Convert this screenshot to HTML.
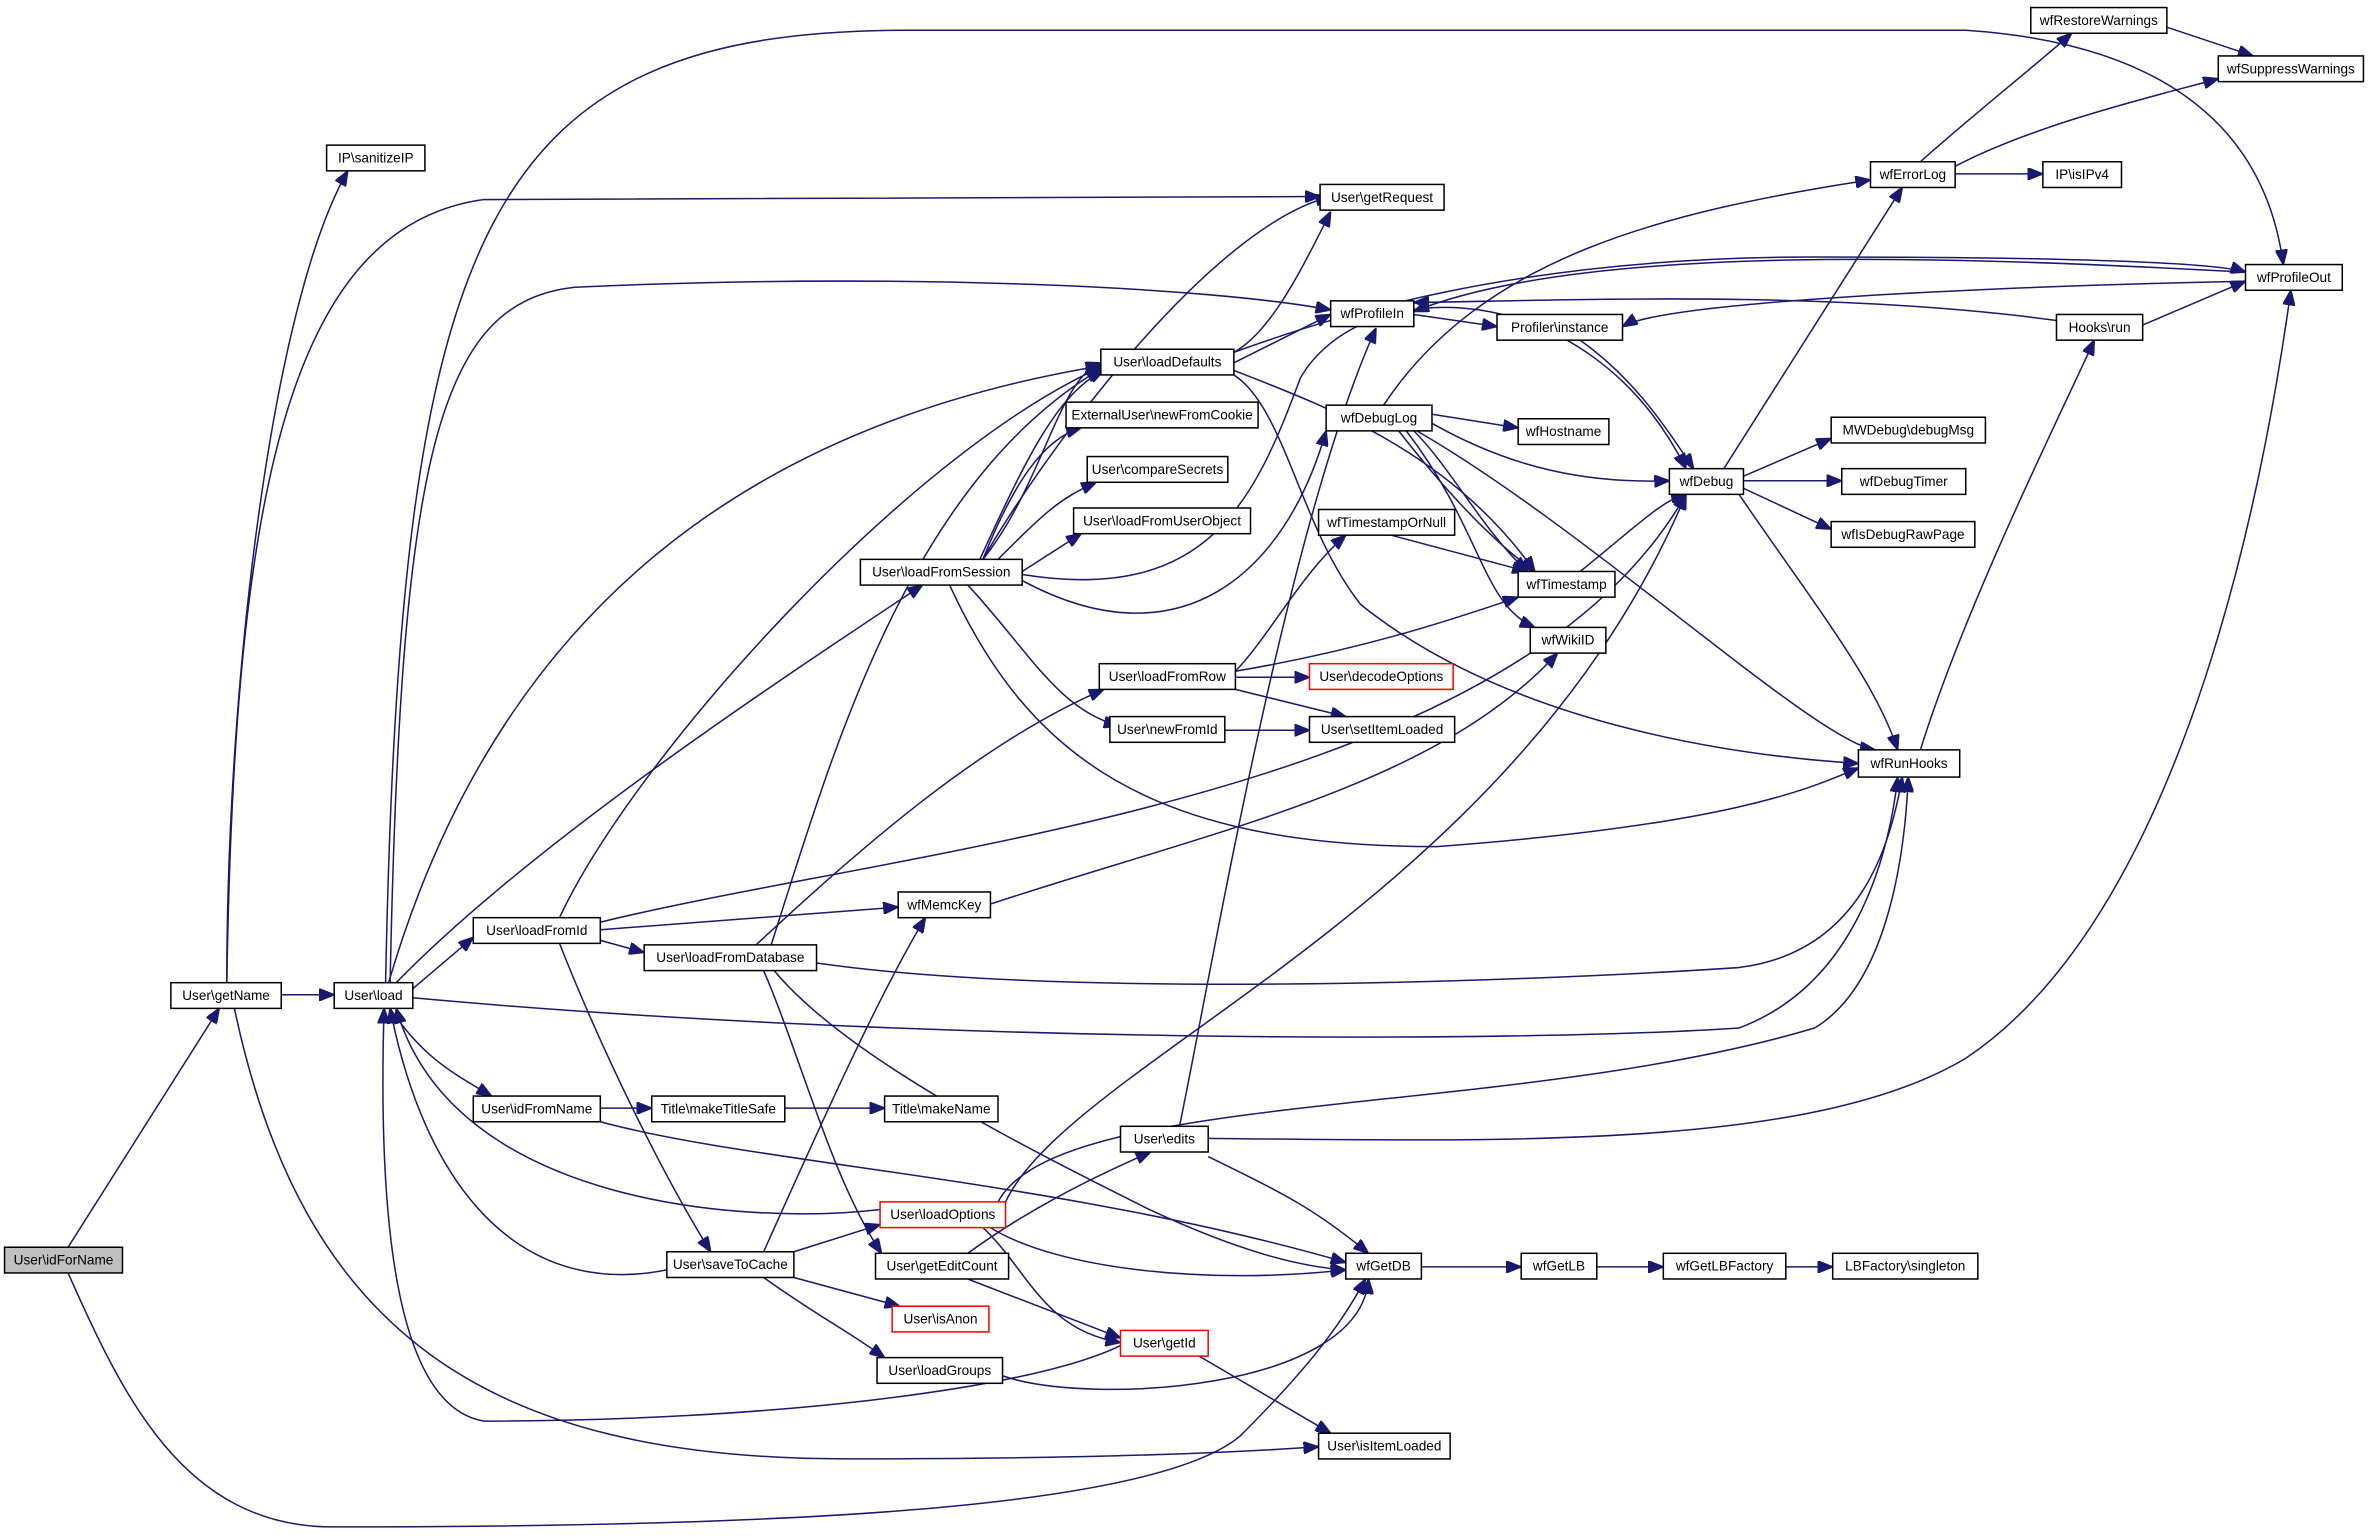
<!DOCTYPE html>
<html><head><meta charset="utf-8"><style>
html,body{margin:0;padding:0;background:#fff;}
svg{display:block;}
text{font-family:"Liberation Sans",sans-serif;font-size:9px;fill:#000;text-anchor:middle;dominant-baseline:central;}
.n{fill:#fff;stroke:#000;stroke-width:1;}
.r{fill:#fff;stroke:#f00;stroke-width:1;}
.g{fill:#bfbfbf;stroke:#000;stroke-width:1;}
path{fill:none;stroke:#191970;stroke-width:1;}
</style></head><body>
<svg width="2371" height="1536" viewBox="0 0 1568 1016" preserveAspectRatio="none" xmlns="http://www.w3.org/2000/svg">
<defs><marker id="a" viewBox="0 0 10 8" refX="10" refY="4" markerWidth="10" markerHeight="8" markerUnits="userSpaceOnUse" orient="auto"><path d="M0,0 L10,4 L0,8 z" style="fill:#191970;stroke:#191970"/></marker></defs>
<g marker-end="url(#a)">
<path d="M45,825 L145,667"/>
<path d="M45,842 C80,920 120,1010 220,1010 C500,1010 760,1000 820,950 C860,910 885,880 903,846"/>
<path d="M186,658 L221,658"/>
<path d="M150,650 C150,450 180,200 230,113"/>
<path d="M150,650 C155,330 190,150 320,132 L873,130"/>
<path d="M155,667 C200,880 320,965 560,965 C700,965 800,962 872,957"/>
<path d="M258,650 C265,300 290,200 380,190 C600,180 800,190 880,205"/>
<path d="M255,650 C265,150 320,20 600,20 L1300,20 C1450,30 1500,100 1510,175"/>
<path d="M257,650 C330,400 500,280 728,242"/>
<path d="M262,650 C350,560 500,460 610,387"/>
<path d="M273,654 L313,620"/>
<path d="M258,667 C280,700 300,710 325,725"/>
<path d="M273,660 C600,690 1000,690 1150,680 C1230,650 1250,560 1255,514"/>
<path d="M582,800 C500,810 300,800 262,667"/>
<path d="M441,840 C340,860 280,780 258,667"/>
<path d="M741,890 C680,920 500,940 320,940 C260,930 250,800 254,667"/>
<path d="M370,607 C420,500 600,300 728,243"/>
<path d="M397,615 L594,600"/>
<path d="M397,622 L426,630"/>
<path d="M370,624 C400,700 440,780 470,828"/>
<path d="M397,610 C600,560 1000,530 1115,327"/>
<path d="M397,733 L431,733"/>
<path d="M397,742 C500,770 700,780 890,835"/>
<path d="M519,733 L585,733"/>
<path d="M500,625 C570,560 650,490 730,456"/>
<path d="M510,625 C550,500 600,320 728,244"/>
<path d="M505,642 C530,700 550,780 583,829"/>
<path d="M512,642 C560,700 680,760 760,800 C820,828 860,838 890,840"/>
<path d="M540,637 C700,660 1000,650 1150,640 C1230,630 1250,560 1258,514"/>
<path d="M525,828 L582,810"/>
<path d="M525,845 L595,864"/>
<path d="M505,845 C540,870 560,880 585,898"/>
<path d="M505,828 C540,750 580,660 612,607"/>
<path d="M655,812 C700,840 800,850 890,840"/>
<path d="M650,812 C680,840 690,880 741,888"/>
<path d="M660,795 C700,720 1000,740 1200,680 C1250,650 1260,560 1262,514"/>
<path d="M665,795 C710,700 1000,600 1115,327"/>
<path d="M640,829 C680,800 720,780 761,762"/>
<path d="M640,846 L741,885"/>
<path d="M780,745 C800,650 850,350 910,217"/>
<path d="M799,753 C1000,755 1200,760 1300,700 C1450,600 1500,300 1515,192"/>
<path d="M799,765 C850,790 870,800 905,829"/>
<path d="M793,897 L880,948"/>
<path d="M663,910 C720,930 900,920 905,846"/>
<path d="M940,838 L1006,838"/>
<path d="M1056,838 L1100,838"/>
<path d="M1181,838 L1212,838"/>
<path d="M650,370 C690,300 800,150 880,130"/>
<path d="M650,370 C690,320 700,250 728,240"/>
<path d="M648,370 C680,300 700,260 730,245"/>
<path d="M650,370 C670,320 690,290 715,283"/>
<path d="M660,370 C690,340 700,330 725,319"/>
<path d="M676,378 L715,353"/>
<path d="M676,380 C800,400 830,330 860,250 C900,180 1050,180 1115,310"/>
<path d="M676,384 C780,440 850,380 877,285"/>
<path d="M640,387 C680,430 700,470 740,480"/>
<path d="M628,387 C680,500 760,560 950,560 C1150,545 1200,520 1229,508"/>
<path d="M817,444 C840,420 860,380 890,354"/>
<path d="M817,444 C900,430 960,410 1004,395"/>
<path d="M817,448 L866,448"/>
<path d="M817,456 L890,474"/>
<path d="M810,483 L866,483"/>
<path d="M816,233 C840,220 860,180 880,140"/>
<path d="M816,240 L880,208"/>
<path d="M816,233 C880,210 1000,170 1200,170 C1400,170 1470,175 1485,180"/>
<path d="M816,245 C880,270 960,300 1015,378"/>
<path d="M816,248 C850,270 860,350 900,400 C1000,480 1150,500 1229,505"/>
<path d="M935,208 L990,216"/>
<path d="M1485,186 C1300,190 1100,200 1073,216"/>
<path d="M1485,180 C1300,170 1050,160 935,206"/>
<path d="M1045,225 C1080,250 1100,280 1120,310"/>
<path d="M915,268 C980,170 1100,140 1237,119"/>
<path d="M947,274 L1004,283"/>
<path d="M947,280 C1000,310 1050,320 1104,318"/>
<path d="M935,285 C960,310 980,350 1010,378"/>
<path d="M925,285 C960,330 990,360 1015,378"/>
<path d="M930,285 C980,350 980,400 1015,415"/>
<path d="M937,285 C1050,350 1200,490 1240,496"/>
<path d="M920,354 L1010,378"/>
<path d="M1045,378 C1080,350 1100,330 1115,327"/>
<path d="M1140,310 L1258,124"/>
<path d="M1153,315 L1211,290"/>
<path d="M1153,318 L1218,318"/>
<path d="M1153,323 L1211,350"/>
<path d="M1150,327 C1200,400 1240,450 1255,496"/>
<path d="M1270,496 C1300,400 1360,280 1385,225"/>
<path d="M1417,215 L1485,186"/>
<path d="M1360,212 C1200,190 1000,200 935,200"/>
<path d="M1270,107 C1300,80 1350,40 1370,22"/>
<path d="M1293,110 C1350,80 1440,60 1467,52"/>
<path d="M1293,115 L1351,115"/>
<path d="M1433,18 L1490,37"/>
<path d="M655,598 C800,550 950,520 1030,432"/>
</g>
<rect class="g" x="3" y="825" width="78" height="17"/><text x="42" y="833.5">User\idForName</text>
<rect class="n" x="113" y="650" width="73" height="17"/><text x="149.5" y="658.5">User\getName</text>
<rect class="n" x="221" y="650" width="52" height="17"/><text x="247" y="658.5">User\load</text>
<rect class="n" x="216" y="96" width="65" height="17"/><text x="248.5" y="104.5">IP\sanitizeIP</text>
<rect class="n" x="313" y="607" width="84" height="17"/><text x="355" y="615.5">User\loadFromId</text>
<rect class="n" x="313" y="725" width="84" height="17"/><text x="355" y="733.5">User\idFromName</text>
<rect class="n" x="426" y="625" width="114" height="17"/><text x="483" y="633.5">User\loadFromDatabase</text>
<rect class="n" x="431" y="725" width="88" height="17"/><text x="475" y="733.5">Title\makeTitleSafe</text>
<rect class="n" x="585" y="725" width="75" height="17"/><text x="622.5" y="733.5">Title\makeName</text>
<rect class="n" x="441" y="828" width="84" height="17"/><text x="483" y="836.5">User\saveToCache</text>
<rect class="r" x="582" y="795" width="83" height="17"/><text x="623.5" y="803.5">User\loadOptions</text>
<rect class="n" x="579" y="829" width="88" height="17"/><text x="623" y="837.5">User\getEditCount</text>
<rect class="r" x="590" y="864" width="64" height="17"/><text x="622" y="872.5">User\isAnon</text>
<rect class="n" x="580" y="898" width="83" height="17"/><text x="621.5" y="906.5">User\loadGroups</text>
<rect class="r" x="741" y="880" width="58" height="17"/><text x="770" y="888.5">User\getId</text>
<rect class="n" x="872" y="948" width="87" height="17"/><text x="915.5" y="956.5">User\isItemLoaded</text>
<rect class="n" x="741" y="745" width="58" height="17"/><text x="770" y="753.5">User\edits</text>
<rect class="n" x="890" y="829" width="50" height="17"/><text x="915" y="837.5">wfGetDB</text>
<rect class="n" x="1006" y="829" width="50" height="17"/><text x="1031" y="837.5">wfGetLB</text>
<rect class="n" x="1100" y="829" width="81" height="17"/><text x="1140.5" y="837.5">wfGetLBFactory</text>
<rect class="n" x="1212" y="829" width="96" height="17"/><text x="1260" y="837.5">LBFactory\singleton</text>
<rect class="n" x="727" y="439" width="90" height="17"/><text x="772" y="447.5">User\loadFromRow</text>
<rect class="r" x="866" y="439" width="95" height="17"/><text x="913.5" y="447.5">User\decodeOptions</text>
<rect class="n" x="734" y="474" width="76" height="17"/><text x="772" y="482.5">User\newFromId</text>
<rect class="n" x="866" y="474" width="96" height="17"/><text x="914" y="482.5">User\setItemLoaded</text>
<rect class="n" x="594" y="590" width="61" height="17"/><text x="624.5" y="598.5">wfMemcKey</text>
<rect class="n" x="569" y="370" width="107" height="17"/><text x="622.5" y="378.5">User\loadFromSession</text>
<rect class="n" x="728" y="231" width="88" height="17"/><text x="772" y="239.5">User\loadDefaults</text>
<rect class="n" x="705" y="266" width="127" height="17"/><text x="768.5" y="274.5">ExternalUser\newFromCookie</text>
<rect class="n" x="719" y="302" width="93" height="17"/><text x="765.5" y="310.5">User\compareSecrets</text>
<rect class="n" x="710" y="336" width="117" height="17"/><text x="768.5" y="344.5">User\loadFromUserObject</text>
<rect class="n" x="873" y="122" width="82" height="17"/><text x="914" y="130.5">User\getRequest</text>
<rect class="n" x="880" y="199" width="55" height="17"/><text x="907.5" y="207.5">wfProfileIn</text>
<rect class="n" x="990" y="208" width="83" height="17"/><text x="1031.5" y="216.5">Profiler\instance</text>
<rect class="n" x="877" y="268" width="70" height="17"/><text x="912" y="276.5">wfDebugLog</text>
<rect class="n" x="1004" y="277" width="60" height="17"/><text x="1034" y="285.5">wfHostname</text>
<rect class="n" x="872" y="337" width="90" height="17"/><text x="917" y="345.5">wfTimestampOrNull</text>
<rect class="n" x="1004" y="378" width="64" height="17"/><text x="1036" y="386.5">wfTimestamp</text>
<rect class="n" x="1012" y="415" width="50" height="17"/><text x="1037" y="423.5">wfWikiID</text>
<rect class="n" x="1104" y="310" width="49" height="17"/><text x="1128.5" y="318.5">wfDebug</text>
<rect class="n" x="1237" y="107" width="56" height="17"/><text x="1265" y="115.5">wfErrorLog</text>
<rect class="n" x="1343" y="5" width="90" height="17"/><text x="1388" y="13.5">wfRestoreWarnings</text>
<rect class="n" x="1467" y="37" width="96" height="17"/><text x="1515" y="45.5">wfSuppressWarnings</text>
<rect class="n" x="1351" y="107" width="52" height="17"/><text x="1377" y="115.5">IP\isIPv4</text>
<rect class="n" x="1485" y="175" width="64" height="17"/><text x="1517" y="183.5">wfProfileOut</text>
<rect class="n" x="1360" y="208" width="57" height="17"/><text x="1388.5" y="216.5">Hooks\run</text>
<rect class="n" x="1211" y="276" width="102" height="17"/><text x="1262" y="284.5">MWDebug\debugMsg</text>
<rect class="n" x="1218" y="310" width="82" height="17"/><text x="1259" y="318.5">wfDebugTimer</text>
<rect class="n" x="1211" y="345" width="95" height="17"/><text x="1258.5" y="353.5">wfIsDebugRawPage</text>
<rect class="n" x="1229" y="496" width="67" height="18"/><text x="1262.5" y="505">wfRunHooks</text>
</svg>
</body></html>
